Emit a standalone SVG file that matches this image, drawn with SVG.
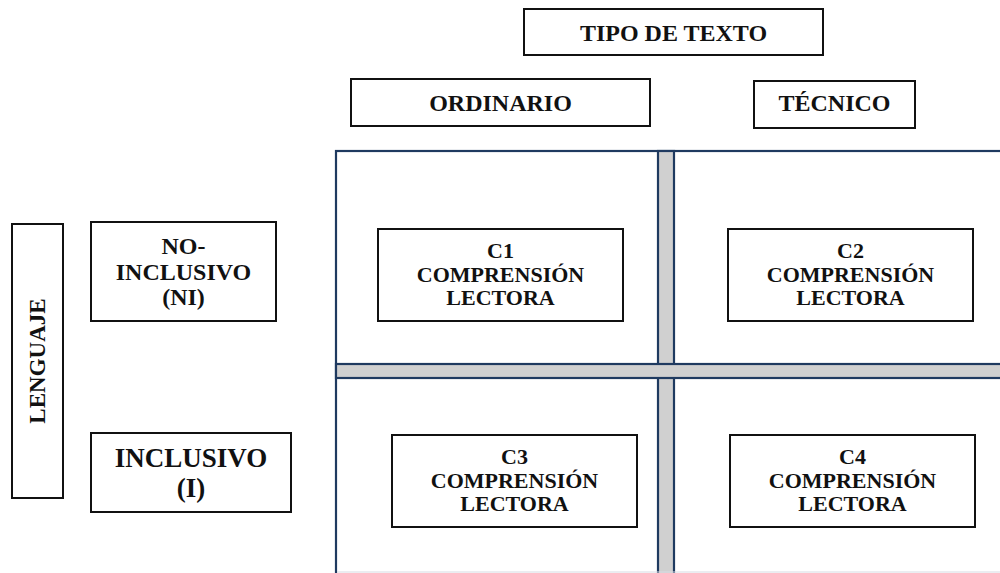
<svg xmlns="http://www.w3.org/2000/svg" width="1000" height="573" viewBox="0 0 1000 573">
<style>
.box{fill:#fff;stroke:#111;stroke-width:2}
text{font-family:'Liberation Serif','DejaVu Serif',serif;font-weight:700;fill:#111;text-anchor:middle}
.t24{font-size:24px}
.t22{font-size:22px}
.t27{font-size:27px}
.grid{fill:#fff;stroke:#1f3a60;stroke-width:2.2}
.bar{fill:#d0d0d0;stroke:#1f3a60;stroke-width:2.2}
</style>
<rect width="1000" height="573" fill="#fff"/>
<g id="grid">
<rect class="grid" x="336" y="151" width="680" height="440"/>
<rect class="bar" x="658" y="151" width="16" height="440"/>
<rect class="bar" x="336" y="364" width="680" height="14"/>
<line x1="337" y1="572" x2="1000" y2="572" stroke="#d8dce4" stroke-width="1.2"/>
</g>
<g id="tipo-de-texto">
<rect class="box" x="524" y="9" width="299" height="46"/>
<text class="t24" x="673.5" y="40.5">TIPO DE TEXTO</text>
</g>
<g id="ordinario">
<rect class="box" x="351" y="79" width="299" height="47"/>
<text class="t24" x="500.5" y="111">ORDINARIO</text>
</g>
<g id="tecnico">
<rect class="box" x="754" y="81" width="161" height="47"/>
<text class="t24" x="834.5" y="111">TÉCNICO</text>
</g>
<g id="lenguaje">
<rect class="box" x="12" y="224" width="51" height="274"/>
<text font-size="23" transform="translate(45,361) rotate(-90)" x="0" y="0">LENGUAJE</text>
</g>
<g id="no-inclusivo">
<rect class="box" x="91" y="222" width="185" height="99"/>
<text class="t24" x="183.5" y="254">NO-</text>
<text class="t24" x="183.5" y="280">INCLUSIVO</text>
<text class="t24" x="183.5" y="305">(NI)</text>
</g>
<g id="inclusivo">
<rect class="box" x="91" y="433" width="200" height="79"/>
<text class="t27" x="191" y="466.5">INCLUSIVO</text>
<text class="t27" x="191" y="496.5">(I)</text>
</g>
<g id="c1">
<rect class="box" x="378" y="229" width="245" height="92"/>
<text class="t22" x="500.5" y="258">C1</text>
<text class="t22" x="500.5" y="282">COMPRENSIÓN</text>
<text class="t22" x="500.5" y="305">LECTORA</text>
</g>
<g id="c2">
<rect class="box" x="728" y="229" width="245" height="92"/>
<text class="t22" x="850.5" y="258">C2</text>
<text class="t22" x="850.5" y="282">COMPRENSIÓN</text>
<text class="t22" x="850.5" y="305">LECTORA</text>
</g>
<g id="c3">
<rect class="box" x="392" y="435" width="245" height="92"/>
<text class="t22" x="514.5" y="464">C3</text>
<text class="t22" x="514.5" y="488">COMPRENSIÓN</text>
<text class="t22" x="514.5" y="511">LECTORA</text>
</g>
<g id="c4">
<rect class="box" x="730" y="435" width="245" height="92"/>
<text class="t22" x="852.5" y="464">C4</text>
<text class="t22" x="852.5" y="488">COMPRENSIÓN</text>
<text class="t22" x="852.5" y="511">LECTORA</text>
</g>
<g id="connectors"/>
</svg>
